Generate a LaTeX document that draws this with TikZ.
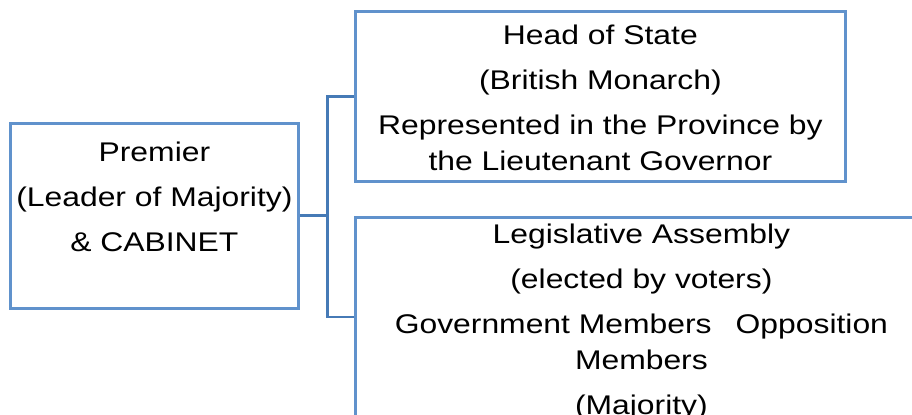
\documentclass[tikz,border=0pt]{standalone}
\usepackage{fontspec}
\setmainfont[FakeStretch=1.18]{Liberation Sans}
\definecolor{boxblue}{RGB}{96,146,204}
\definecolor{linkblue}{RGB}{70,122,182}
\tikzset{
  govbox/.style={draw=boxblue, line width=1.4pt, inner sep=0pt, anchor=north west},
  link/.style={draw=linkblue, line width=1.4pt},
}
% width, height, first baseline, text
\newcommand{\boxtext}[4]{\parbox[c][#2][t]{#1}{\fontsize{13.5}{18}\selectfont\centering\rule{0pt}{#3}#4}}
\begin{document}
\begin{tikzpicture}[x=0.5pt,y=-0.5pt]
  \useasboundingbox (0,0) rectangle (912,415);
  \clip (0,0) rectangle (912,415);

  \node[govbox] (premier) at (9,122)
    {\boxtext{144pt}{92.5pt}{19pt}{Premier\\[4.5pt](Leader of Majority)\\[4.5pt]\& CABINET}};
  \node[govbox] (headstate) at (354,10)
    {\boxtext{245pt}{85pt}{16.5pt}{Head of State\\[4.5pt](British Monarch)\\[4.5pt]Represented in the Province by\\the Lieutenant Governor}};
  \node[govbox] (assembly) at (354,216)
    {\boxtext{308pt}{130pt}{13pt}{\rightskip=22pt plus 1fil\relax Legislative Assembly\\[4.5pt](elected by voters)\\[4.5pt]Government Members\hspace{12pt}Opposition\\Members\\[4.5pt](Majority)}};

  % connectors
  \coordinate (bus) at ([xshift=14pt]premier.east);
  \path (assembly.north west) ++(0,101) coordinate (asmin);
  \draw[link] (premier.east) -- (bus);
  \draw[link] (headstate.west) -| (bus) |- (asmin);
\end{tikzpicture}
\end{document}
